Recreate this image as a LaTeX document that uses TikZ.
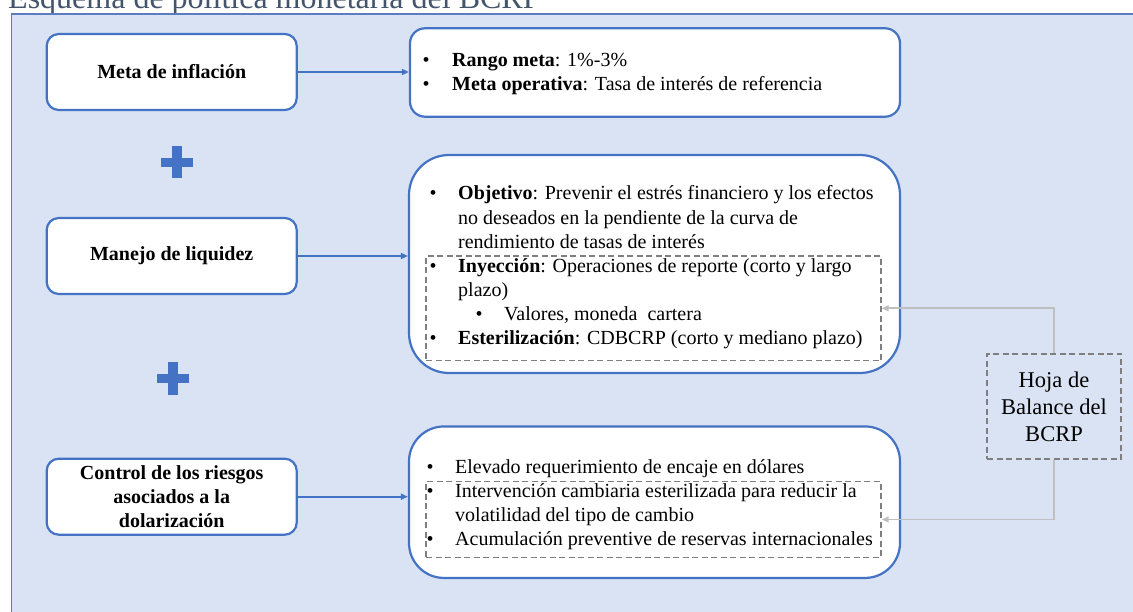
\documentclass[tikz,border=0pt]{standalone}
\usepackage{fontspec}
\setmainfont{Liberation Serif}
\usetikzlibrary{arrows.meta}
\definecolor{panelfill}{HTML}{DAE3F3}
\definecolor{panelline}{HTML}{5B7CBF}
\definecolor{boxblue}{HTML}{4472C4}
\definecolor{dashgray}{HTML}{7F7F7F}
\definecolor{linkgray}{HTML}{BFBFBF}
\definecolor{titlecol}{HTML}{44546A}
\newcommand\bitem[2]{\hbox{\makebox[#1][l]{\textbullet}#2}}
\newcommand\citem[2]{\hbox{\hspace*{#1}#2}}
\tikzset{
  leftbox/.style={draw=boxblue, line width=2.2pt, fill=white, rounded corners=12pt,
    minimum width=250pt, minimum height=76pt, inner sep=0pt, align=center,
    font=\fontsize{20}{24}\selectfont\bfseries},
  rightbox/.style={draw=boxblue, line width=2.2pt, fill=white, inner sep=0pt},
  dashbox/.style={draw=dashgray, line width=1.4pt, dash pattern=on 6pt off 3.5pt, inner sep=0pt},
  listtext/.style={anchor=base west, inner sep=0pt, font=\fontsize{20}{24}\selectfont},
  bluearrow/.style={draw=boxblue, line width=1.6pt, -{Triangle[length=7pt,width=6pt]}},
  linkarrow/.style={draw=linkgray, line width=1.8pt, -{Triangle[length=7pt,width=6pt]}},
  plusbar/.style={fill=boxblue}
}
\begin{document}
\begin{tikzpicture}[x=1pt,y=-1pt]
\useasboundingbox (0,0) rectangle (1133,612);
% title (cut at the top edge, as in the reference)
\node[anchor=base west, inner sep=0pt, text=titlecol, font=\fontsize{32}{32}\selectfont] (title) at (8,8.5) {Esquema de política monetaria del BCRP};
% panel
\draw[draw=panelline, line width=1.5pt, fill=panelfill] (11.5,14) rectangle (1150,630);
% left boxes
\node[leftbox] (l1) at (171.7,72) {Meta de inflación};
\node[leftbox] (l2) at (171.7,256) {Manejo de liquidez};
\node[leftbox] (l3) at (171.7,496.7) {Control de los riesgos\\asociados a la\\dolarización};
% right boxes
\node[rightbox, rounded corners=15pt, minimum width=490pt, minimum height=88.4pt] (r1) at (655,72.5) {};
\node[rightbox, rounded corners=40pt, minimum width=491pt, minimum height=218pt] (r2) at (654.5,264) {};
\node[rightbox, rounded corners=35pt, minimum width=491pt, minimum height=151.5pt] (r3) at (654.5,502.2) {};
% dashed groups
\node[dashbox, minimum width=455pt, minimum height=104.7pt] (d2) at (653.5,308.3) {};
\node[dashbox, minimum width=455pt, minimum height=75.6pt] (d3) at (653.5,519.5) {};
% balance sheet box
\node[dashbox, minimum width=134pt, minimum height=105pt, align=center,
  font=\fontsize{22.5}{27}\selectfont] (h) at (1054,406.5) {Hoja de\\Balance del\\BCRP};
% texts
\node[listtext] (t1) at (422.5,67) {\vtop{\baselineskip=23.5pt
  \bitem{29.5pt}{\textbf{Rango meta}: 1\%-3\%}
  \bitem{29.5pt}{\textbf{Meta operativa}: Tasa de interés de referencia}}};
\node[listtext] (t2) at (429.5,200) {\vtop{\baselineskip=24.15pt
  \bitem{28.5pt}{\textbf{Objetivo}: Prevenir el estrés financiero y los efectos}
  \citem{28.5pt}{no deseados en la pendiente de la curva de}
  \citem{28.5pt}{rendimiento de tasas de interés}
  \bitem{28.5pt}{\textbf{Inyección}: Operaciones de reporte (corto y largo}
  \citem{28.5pt}{plazo)}
  \citem{46pt}{\makebox[28.5pt][l]{\textbullet}Valores, moneda\ \ cartera}
  \bitem{28.5pt}{\textbf{Esterilización}: CDBCRP (corto y mediano plazo)}}};
\node[listtext] (t3) at (426.5,473.3) {\vtop{\baselineskip=24.2pt
  \bitem{28.5pt}{Elevado requerimiento de encaje en dólares}
  \bitem{28.5pt}{Intervención cambiaria esterilizada para reducir la}
  \citem{28.5pt}{volatilidad del tipo de cambio}
  \bitem{28.5pt}{Acumulación preventive de reservas internacionales}}};
% plus signs
\fill[plusbar] (161,158) rectangle (193,167);
\fill[plusbar] (172,146) rectangle (182,178.5);
\fill[plusbar] (157,374) rectangle (189,383);
\fill[plusbar] (168,362.5) rectangle (178,394.5);
% arrows
\draw[bluearrow] (l1.east) -- (l1.east -| r1.west);
\draw[bluearrow] (l2.east) -- (l2.east -| r2.west);
\draw[bluearrow] (l3.east) -- (l3.east -| r3.west);
\draw[linkarrow] (h.north) |- (d2.east);
\draw[linkarrow] (h.south) |- (d3.east);
\end{tikzpicture}
\end{document}
